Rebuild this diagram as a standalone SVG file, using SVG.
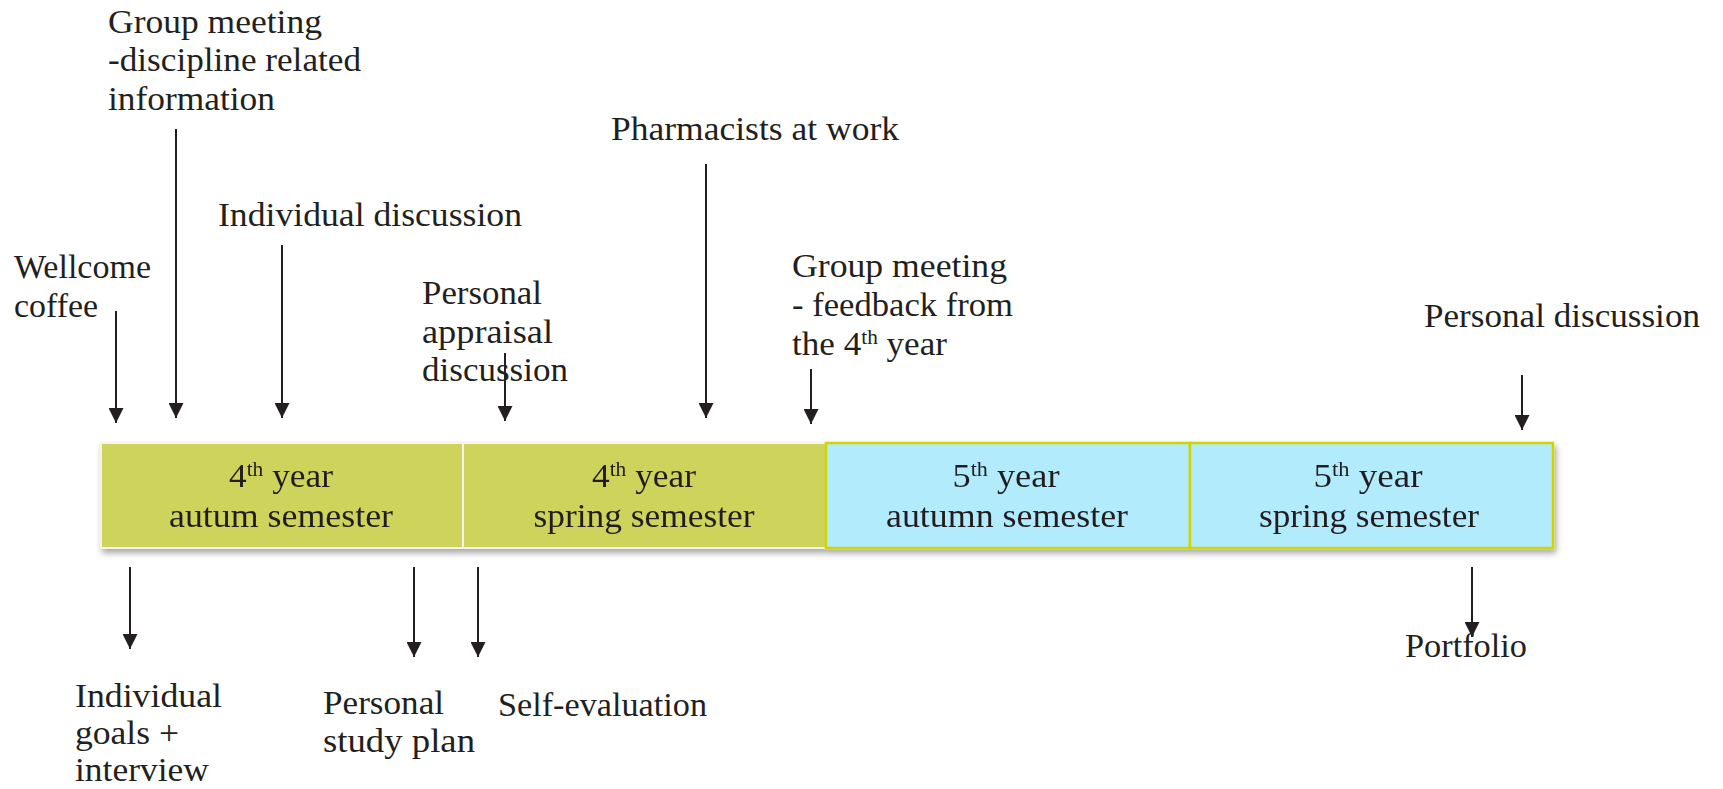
<svg xmlns="http://www.w3.org/2000/svg" width="1723" height="789" viewBox="0 0 1723 789">
  <style>
    text { font-family: "Liberation Serif", "Times New Roman", serif; font-size: 33px; fill: #231f20; }
    .c { text-anchor: middle; }
    .sup { font-size: 20px; }
    .ln { stroke: #231f20; stroke-width: 2; fill: none; marker-end: url(#ah); }
    .green { fill: #ced35b; stroke: #f4f4ee; stroke-width: 2; }
    .blue { fill: #b2ebfc; stroke: #d2d400; stroke-width: 2.5; }
  </style>
  <defs>
    <marker id="ah" markerUnits="userSpaceOnUse" markerWidth="16" markerHeight="15" refX="15" refY="7.5" orient="auto">
      <path d="M0,0 L15,7.5 L0,15 z" fill="#231f20"/>
    </marker>
    <filter id="sh" x="-5%" y="-20%" width="110%" height="150%">
      <feDropShadow dx="2" dy="4" stdDeviation="3" flood-color="#000" flood-opacity="0.35"/>
    </filter>
  </defs>
  <rect width="1723" height="789" fill="#ffffff"/>

  <g id="semesters" filter="url(#sh)">
    <g id="s4autumn">
      <rect class="green" x="101" y="443" width="362" height="105"/>
      <text class="c" x="281" y="487" textLength="104" lengthAdjust="spacingAndGlyphs">4<tspan class="sup" dy="-11">th</tspan><tspan dy="11"> year</tspan></text>
      <text class="c" x="281" y="527" textLength="224" lengthAdjust="spacingAndGlyphs">autum semester</text>
    </g>
    <g id="s4spring">
      <rect class="green" x="463" y="443" width="363" height="105"/>
      <text class="c" x="644" y="487" textLength="104" lengthAdjust="spacingAndGlyphs">4<tspan class="sup" dy="-11">th</tspan><tspan dy="11"> year</tspan></text>
      <text class="c" x="644" y="527" textLength="221" lengthAdjust="spacingAndGlyphs">spring semester</text>
    </g>
    <g id="s5autumn">
      <rect class="blue" x="826" y="443" width="364" height="105"/>
      <text class="c" x="1006" y="487" textLength="107" lengthAdjust="spacingAndGlyphs">5<tspan class="sup" dy="-11">th</tspan><tspan dy="11"> year</tspan></text>
      <text class="c" x="1007" y="527" textLength="242" lengthAdjust="spacingAndGlyphs">autumn semester</text>
    </g>
    <g id="s5spring">
      <rect class="blue" x="1190" y="443" width="363" height="105"/>
      <text class="c" x="1368" y="487" textLength="109" lengthAdjust="spacingAndGlyphs">5<tspan class="sup" dy="-11">th</tspan><tspan dy="11"> year</tspan></text>
      <text class="c" x="1369" y="527" textLength="220" lengthAdjust="spacingAndGlyphs">spring semester</text>
    </g>
  </g>

  <g id="connectors">
    <line class="ln" x1="116" y1="311" x2="116" y2="423"/>
    <line class="ln" x1="176" y1="129" x2="176" y2="418"/>
    <line class="ln" x1="282" y1="245" x2="282" y2="418"/>
    <line class="ln" x1="505" y1="353" x2="505" y2="421"/>
    <line class="ln" x1="706" y1="164" x2="706" y2="418"/>
    <line class="ln" x1="811" y1="369" x2="811" y2="424"/>
    <line class="ln" x1="1522" y1="375" x2="1522" y2="430"/>
    <line class="ln" x1="130" y1="567" x2="130" y2="649"/>
    <line class="ln" x1="414" y1="567" x2="414" y2="657"/>
    <line class="ln" x1="478" y1="567" x2="478" y2="657"/>
    <line class="ln" x1="1472" y1="567" x2="1472" y2="637"/>
  </g>

  <g id="wellcome">
    <text x="14" y="278" textLength="137" lengthAdjust="spacingAndGlyphs">Wellcome</text>
    <text x="14" y="317" textLength="84" lengthAdjust="spacingAndGlyphs">coffee</text>
  </g>
  <g id="groupmeeting1">
    <text x="108" y="33" textLength="214" lengthAdjust="spacingAndGlyphs">Group meeting</text>
    <text x="108" y="71" textLength="253" lengthAdjust="spacingAndGlyphs">-discipline related</text>
    <text x="108" y="110" textLength="167" lengthAdjust="spacingAndGlyphs">information</text>
  </g>
  <g id="individualdiscussion">
    <text x="218" y="226" textLength="304" lengthAdjust="spacingAndGlyphs">Individual discussion</text>
  </g>
  <g id="appraisal">
    <text x="422" y="304" textLength="120" lengthAdjust="spacingAndGlyphs">Personal</text>
    <text x="422" y="343" textLength="131" lengthAdjust="spacingAndGlyphs">appraisal</text>
    <text x="422" y="381" textLength="146" lengthAdjust="spacingAndGlyphs">discussion</text>
  </g>
  <g id="pharmacists">
    <text x="611" y="140" textLength="288" lengthAdjust="spacingAndGlyphs">Pharmacists at work</text>
  </g>
  <g id="groupmeeting2">
    <text x="792" y="277" textLength="215" lengthAdjust="spacingAndGlyphs">Group meeting</text>
    <text x="792" y="316" textLength="221" lengthAdjust="spacingAndGlyphs">- feedback from</text>
    <text x="792" y="355" textLength="155" lengthAdjust="spacingAndGlyphs">the 4<tspan class="sup" dy="-11">th</tspan><tspan dy="11"> year</tspan></text>
  </g>
  <g id="personaldiscussion">
    <text x="1424" y="327" textLength="276" lengthAdjust="spacingAndGlyphs">Personal discussion</text>
  </g>
  <g id="individualgoals">
    <text x="75" y="707" textLength="147" lengthAdjust="spacingAndGlyphs">Individual</text>
    <text x="75" y="744" textLength="104" lengthAdjust="spacingAndGlyphs">goals +</text>
    <text x="75" y="781" textLength="134" lengthAdjust="spacingAndGlyphs">interview</text>
  </g>
  <g id="studyplan">
    <text x="323" y="714" textLength="121" lengthAdjust="spacingAndGlyphs">Personal</text>
    <text x="323" y="752" textLength="152" lengthAdjust="spacingAndGlyphs">study plan</text>
  </g>
  <g id="selfevaluation">
    <text x="498" y="716" textLength="209" lengthAdjust="spacingAndGlyphs">Self-evaluation</text>
  </g>
  <g id="portfolio">
    <text x="1405" y="657" textLength="122" lengthAdjust="spacingAndGlyphs">Portfolio</text>
  </g>
</svg>
